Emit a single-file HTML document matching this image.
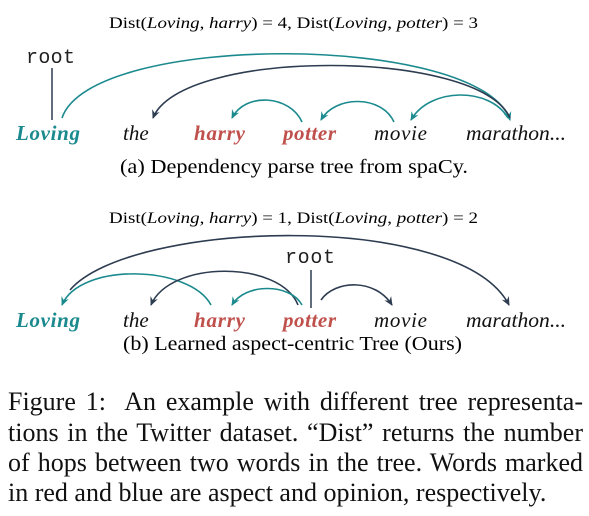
<!DOCTYPE html>
<html><head><meta charset="utf-8"><style>
html,body{margin:0;padding:0;background:#fff;}
svg{display:block;position:absolute;left:0;top:0;}
text{font-family:"Liberation Serif",serif;}
.w{font-size:21px;font-style:italic;fill:#111;}
.mono{font-family:"Liberation Mono",monospace;font-size:20px;fill:#222;}
.cap{position:absolute;left:8px;width:575px;font-family:"Liberation Serif",serif;font-size:26px;color:#111;text-align:justify;text-align-last:justify;white-space:nowrap;line-height:30px;}
</style></head><body>
<svg width="589" height="516" viewBox="0 0 589 516" xmlns="http://www.w3.org/2000/svg">
<defs>
<marker id="at" markerWidth="10" markerHeight="10" refX="8" refY="5" orient="auto" markerUnits="userSpaceOnUse"><path d="M0,1 L9,5 L0,9 L3,5 Z" fill="#1b8a8e"/></marker>
<marker id="ad" markerWidth="10" markerHeight="10" refX="8" refY="5" orient="auto" markerUnits="userSpaceOnUse"><path d="M0,1 L9,5 L0,9 L3,5 Z" fill="#2d3c50"/></marker>
</defs>
<g>
<text x="109" y="28" font-size="15.5" textLength="369" lengthAdjust="spacingAndGlyphs">Dist(<tspan font-style="italic">Loving</tspan>, <tspan font-style="italic">harry</tspan>) = 4,   Dist(<tspan font-style="italic">Loving</tspan>, <tspan font-style="italic">potter</tspan>) = 3</text>
<text class="mono" x="26" y="63" textLength="49">root</text>
<line x1="52" y1="68" x2="52" y2="120" stroke="#2d3c50" stroke-width="1.5"/>
<g fill="none" stroke-width="1.6">
<path d="M62 118 C90 32,480 32,510 120" stroke="#1b8a8e" marker-end="url(#at)"/>
<path d="M510 118 C480 48,180 48,153 118" stroke="#2d3c50" marker-end="url(#ad)"/>
<path d="M302 122 C290 95,245 92,232 118" stroke="#1b8a8e" marker-end="url(#at)"/>
<path d="M394 122 C382 95,335 95,321 120" stroke="#1b8a8e" marker-end="url(#at)"/>
<path d="M508 118 C490 87,430 87,411 120" stroke="#1b8a8e" marker-end="url(#at)"/>
</g>
<text class="w" x="16" y="140" font-weight="bold" style="fill:#1b8a8e" textLength="64">Loving</text>
<text class="w" x="123" y="140">the</text>
<text class="w" x="194" y="140" font-weight="bold" style="fill:#bf504c" textLength="51">harry</text>
<text class="w" x="283" y="140" font-weight="bold" style="fill:#bf504c" textLength="53">potter</text>
<text class="w" x="374" y="140" textLength="53">movie</text>
<text class="w" x="466" y="140" textLength="100" lengthAdjust="spacingAndGlyphs">marathon...</text>
<text x="120" y="173" font-size="20.5" textLength="348" lengthAdjust="spacingAndGlyphs">(a) Dependency parse tree from spaCy.</text>
</g>
<g>
<text x="109" y="223" font-size="15.5" textLength="369" lengthAdjust="spacingAndGlyphs">Dist(<tspan font-style="italic">Loving</tspan>, <tspan font-style="italic">harry</tspan>) = 1,   Dist(<tspan font-style="italic">Loving</tspan>, <tspan font-style="italic">potter</tspan>) = 2</text>
<text class="mono" x="285" y="263" textLength="50">root</text>
<line x1="311" y1="270" x2="311" y2="308" stroke="#2d3c50" stroke-width="1.5"/>
<g fill="none" stroke-width="1.6">
<path d="M70 290 C130 220,460 210,509 305" stroke="#2d3c50" marker-end="url(#ad)"/>
<path d="M211 305 C190 265,80 262,62 305" stroke="#1b8a8e" marker-end="url(#at)"/>
<path d="M298 305 C280 260,170 260,151 305" stroke="#2d3c50" marker-end="url(#ad)"/>
<path d="M302 305 C290 283,245 283,232 305" stroke="#1b8a8e" marker-end="url(#at)"/>
<path d="M321 300 C335 280,375 278,392 305" stroke="#2d3c50" marker-end="url(#ad)"/>
</g>
<text class="w" x="16" y="327" font-weight="bold" style="fill:#1b8a8e" textLength="64">Loving</text>
<text class="w" x="123" y="327">the</text>
<text class="w" x="194" y="327" font-weight="bold" style="fill:#bf504c" textLength="51">harry</text>
<text class="w" x="283" y="327" font-weight="bold" style="fill:#bf504c" textLength="53">potter</text>
<text class="w" x="374" y="327" textLength="53">movie</text>
<text class="w" x="466" y="327" textLength="100" lengthAdjust="spacingAndGlyphs">marathon...</text>
<text x="123" y="350" font-size="20.5" textLength="339" lengthAdjust="spacingAndGlyphs">(b) Learned aspect-centric Tree (Ours)</text>
</g>
</svg>
<div>
<div class="cap" style="top:387px">Figure 1:&nbsp; An example with different tree representa-</div>
<div class="cap" style="top:418px">tions in the Twitter dataset. “Dist” returns the number</div>
<div class="cap" style="top:448px">of hops between two words in the tree. Words marked</div>
<div class="cap" style="top:478px;text-align-last:left">in red and blue are aspect and opinion, respectively.</div>
</div>
</body></html>
